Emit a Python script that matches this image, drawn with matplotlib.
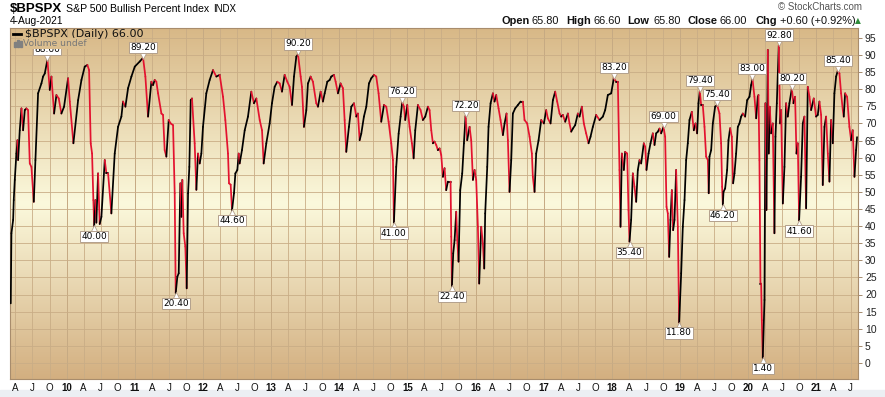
import numpy as np
import matplotlib
matplotlib.use("Agg")
import matplotlib.pyplot as plt
from matplotlib.collections import LineCollection
from matplotlib.colors import to_rgb
from matplotlib.patches import Rectangle
from matplotlib import transforms

# daily close of $BPSPX (decimal years)
dates = [
    2009.181, 2009.191, 2009.216, 2009.225, 2009.240, 2009.264, 2009.279, 2009.289, 2009.313, 2009.338,
    2009.362, 2009.387, 2009.411, 2009.435, 2009.460, 2009.484, 2009.519, 2009.543, 2009.582, 2009.631,
    2009.655, 2009.680, 2009.719, 2009.753, 2009.778, 2009.817, 2009.851, 2009.885, 2009.924, 2009.963,
    2010.022, 2010.047, 2010.100, 2010.169, 2010.218, 2010.266, 2010.305, 2010.330, 2010.354, 2010.374,
    2010.393, 2010.405, 2010.423, 2010.437, 2010.462, 2010.486, 2010.511, 2010.560, 2010.584, 2010.609,
    2010.657, 2010.706, 2010.755, 2010.804, 2010.828, 2010.863, 2010.902, 2010.951, 2011.000, 2011.073,
    2011.122, 2011.156, 2011.195, 2011.244, 2011.268, 2011.293, 2011.317, 2011.342, 2011.391, 2011.415,
    2011.439, 2011.464, 2011.498, 2011.527, 2011.562, 2011.586, 2011.601, 2011.625, 2011.645, 2011.669,
    2011.684, 2011.698, 2011.718, 2011.742, 2011.762, 2011.782, 2011.801, 2011.821, 2011.840, 2011.879,
    2011.904, 2011.928, 2011.953, 2011.977, 2012.001, 2012.050, 2012.099, 2012.148, 2012.197, 2012.246,
    2012.295, 2012.329, 2012.368, 2012.383, 2012.407, 2012.427, 2012.456, 2012.476, 2012.505, 2012.525,
    2012.539, 2012.573, 2012.613, 2012.661, 2012.710, 2012.749, 2012.784, 2012.833, 2012.867, 2012.891,
    2012.930, 2012.979, 2013.013, 2013.052, 2013.091, 2013.126, 2013.160, 2013.199, 2013.238, 2013.272,
    2013.307, 2013.336, 2013.370, 2013.395, 2013.434, 2013.453, 2013.482, 2013.517, 2013.541, 2013.580,
    2013.614, 2013.663, 2013.688, 2013.727, 2013.761, 2013.786, 2013.825, 2013.859, 2013.883, 2013.922,
    2013.947, 2013.981, 2014.020, 2014.054, 2014.079, 2014.103, 2014.142, 2014.177, 2014.216, 2014.250,
    2014.274, 2014.299, 2014.323, 2014.362, 2014.397, 2014.436, 2014.470, 2014.509, 2014.543, 2014.577,
    2014.616, 2014.656, 2014.690, 2014.724, 2014.763, 2014.788, 2014.802, 2014.836, 2014.871, 2014.900,
    2014.924, 2014.949, 2014.968, 2014.998, 2015.032, 2015.066, 2015.091, 2015.115, 2015.154, 2015.193,
    2015.227, 2015.262, 2015.301, 2015.325, 2015.350, 2015.374, 2015.398, 2015.423, 2015.447, 2015.472,
    2015.496, 2015.521, 2015.545, 2015.569, 2015.594, 2015.633, 2015.643, 2015.653, 2015.672, 2015.692,
    2015.716, 2015.731, 2015.750, 2015.775, 2015.804, 2015.829, 2015.853, 2015.877, 2015.912, 2015.936,
    2015.961, 2015.985, 2016.009, 2016.034, 2016.053, 2016.083, 2016.107, 2016.127, 2016.141, 2016.171,
    2016.190, 2016.220, 2016.254, 2016.278, 2016.303, 2016.337, 2016.366, 2016.401, 2016.425, 2016.454,
    2016.474, 2016.498, 2016.523, 2016.547, 2016.581, 2016.621, 2016.660, 2016.694, 2016.718, 2016.757,
    2016.792, 2016.826, 2016.840, 2016.865, 2016.889, 2016.924, 2016.963, 2017.002, 2017.036, 2017.060,
    2017.100, 2017.134, 2017.168, 2017.197, 2017.232, 2017.256, 2017.280, 2017.315, 2017.354, 2017.378,
    2017.403, 2017.427, 2017.461, 2017.500, 2017.525, 2017.559, 2017.588, 2017.622, 2017.657, 2017.686,
    2017.720, 2017.769, 2017.818, 2017.867, 2017.901, 2017.940, 2017.989, 2018.028, 2018.062, 2018.087,
    2018.111, 2018.126, 2018.146, 2018.175, 2018.194, 2018.224, 2018.243, 2018.258, 2018.282, 2018.307,
    2018.331, 2018.356, 2018.380, 2018.405, 2018.429, 2018.468, 2018.488, 2018.507, 2018.537, 2018.566,
    2018.600, 2018.625, 2018.649, 2018.674, 2018.698, 2018.722, 2018.757, 2018.781, 2018.801, 2018.820,
    2018.840, 2018.859, 2018.879, 2018.898, 2018.918, 2018.942, 2018.967, 2018.986, 2019.016, 2019.040,
    2019.065, 2019.089, 2019.113, 2019.138, 2019.172, 2019.201, 2019.226, 2019.250, 2019.270, 2019.289,
    2019.309, 2019.333, 2019.358, 2019.382, 2019.407, 2019.420, 2019.431, 2019.456, 2019.480, 2019.514,
    2019.544, 2019.578, 2019.602, 2019.617, 2019.627, 2019.637, 2019.661, 2019.690, 2019.710, 2019.734,
    2019.759, 2019.778, 2019.798, 2019.822, 2019.847, 2019.871, 2019.896, 2019.920, 2019.954, 2019.984,
    2020.018, 2020.042, 2020.062, 2020.091, 2020.116, 2020.140, 2020.150, 2020.164, 2020.179, 2020.189,
    2020.199, 2020.213, 2020.238, 2020.252, 2020.267, 2020.287, 2020.301, 2020.316, 2020.335, 2020.360,
    2020.384, 2020.399, 2020.419, 2020.448, 2020.467, 2020.482, 2020.507, 2020.531, 2020.555, 2020.580,
    2020.604, 2020.639, 2020.663, 2020.687, 2020.707, 2020.727, 2020.746, 2020.775, 2020.800, 2020.824,
    2020.849, 2020.873, 2020.898, 2020.922, 2020.961, 2020.995, 2021.020, 2021.044, 2021.069, 2021.093,
    2021.118, 2021.142, 2021.167, 2021.191, 2021.215, 2021.240, 2021.264, 2021.289, 2021.313, 2021.338,
    2021.362, 2021.387, 2021.401, 2021.421, 2021.450, 2021.484, 2021.509, 2021.533, 2021.558, 2021.582,
    2021.596,
]
values = [
    17.4, 37.9, 41.8, 47.6, 53.5, 61.2, 65.1, 59.3, 68.0, 74.4,
    68.0, 73.9, 74.4, 73.9, 58.3, 57.3, 47.1, 59.3, 78.8, 81.7,
    83.7, 84.6, 88.6, 79.8, 83.7, 72.9, 78.3, 77.3, 72.9, 74.9,
    83.2, 76.4, 64.2, 76.8, 82.7, 86.6, 87.1, 85.6, 64.2, 61.2,
    47.6, 40.0, 47.6, 41.0, 55.4, 40.6, 42.7, 59.3, 55.4, 55.4,
    43.7, 61.2, 69.0, 72.0, 76.4, 74.9, 80.3, 83.7, 86.6, 88.1,
    89.2, 83.7, 72.0, 82.2, 81.2, 82.7, 82.2, 78.8, 72.9, 72.5,
    62.2, 60.3, 71.0, 70.0, 69.5, 49.6, 20.4, 25.2, 26.2, 52.5,
    42.7, 53.5, 37.9, 34.0, 21.8, 49.6, 57.3, 76.8, 77.3, 64.2,
    50.6, 61.2, 58.3, 61.2, 69.0, 78.8, 82.7, 85.6, 83.7, 84.2,
    77.8, 71.0, 61.2, 52.5, 52.1, 44.6, 49.6, 55.4, 56.4, 61.2,
    58.3, 62.2, 68.0, 72.0, 79.3, 75.9, 77.3, 71.0, 68.0, 58.3,
    64.2, 70.0, 75.9, 80.7, 82.2, 81.7, 79.3, 84.2, 82.2, 80.7,
    75.4, 83.7, 89.5, 90.2, 83.7, 80.7, 69.0, 73.9, 81.7, 83.7,
    82.2, 75.9, 74.9, 79.3, 76.4, 78.8, 82.2, 82.7, 83.7, 84.2,
    82.2, 78.8, 81.7, 80.3, 71.0, 61.7, 69.0, 74.9, 75.9, 72.0,
    72.9, 65.1, 67.0, 72.0, 74.9, 81.7, 83.2, 84.2, 83.7, 78.8,
    70.5, 75.4, 74.9, 70.5, 64.2, 59.3, 41.0, 57.3, 67.0, 72.0,
    76.2, 74.9, 71.0, 75.4, 69.0, 64.2, 59.8, 68.0, 75.4, 73.9,
    71.0, 72.0, 74.9, 73.9, 68.0, 64.2, 64.7, 63.7, 62.2, 62.7,
    60.8, 54.4, 56.9, 50.5, 53.0, 53.0, 36.9, 22.4, 32.0, 35.9,
    44.2, 35.9, 29.6, 50.5, 55.4, 64.2, 72.2, 65.1, 69.0, 65.1,
    53.5, 56.4, 53.5, 39.8, 23.2, 39.8, 34.9, 27.6, 43.7, 57.3,
    69.0, 75.9, 78.8, 76.4, 78.3, 74.4, 71.0, 66.6, 70.0, 72.9,
    65.1, 50.0, 59.3, 72.9, 74.4, 75.4, 76.4, 76.4, 71.0, 70.0,
    66.1, 61.2, 54.4, 50.0, 61.2, 65.1, 71.0, 70.0, 73.9, 71.5,
    70.0, 76.8, 79.3, 76.4, 72.9, 72.0, 72.5, 70.5, 72.9, 70.0,
    67.6, 68.5, 69.5, 72.9, 72.0, 74.9, 70.0, 67.1, 64.2, 66.1,
    69.0, 72.5, 71.0, 72.0, 73.9, 78.3, 78.8, 83.2, 82.2, 82.2,
    56.4, 39.8, 61.2, 56.4, 61.7, 61.2, 44.7, 35.4, 41.8, 55.4,
    51.5, 47.1, 56.4, 59.3, 58.3, 64.2, 63.2, 56.4, 61.2, 64.2,
    67.1, 63.7, 67.1, 67.6, 68.5, 67.1, 69.0, 66.1, 45.6, 43.7,
    31.0, 41.8, 50.5, 38.8, 41.8, 56.4, 39.8, 11.8, 26.2, 39.8,
    47.6, 59.3, 64.2, 71.0, 73.4, 68.0, 70.0, 67.1, 75.9, 79.4,
    75.4, 75.4, 69.0, 60.3, 59.3, 49.6, 60.3, 62.2, 70.0, 74.9,
    75.4, 72.9, 64.2, 51.5, 46.2, 50.0, 51.0, 56.4, 65.1, 68.6,
    66.1, 52.5, 55.4, 61.2, 69.0, 70.0, 72.0, 72.9, 72.0, 76.8,
    77.8, 81.2, 83.0, 77.8, 71.5, 77.8, 78.3, 59.3, 23.2, 23.2,
    12.5, 1.4, 18.4, 75.9, 44.7, 91.5, 61.2, 74.9, 67.1, 70.0,
    37.9, 66.1, 75.9, 92.8, 70.0, 73.9, 46.6, 57.3, 75.9, 72.0,
    75.9, 80.2, 75.9, 77.8, 61.2, 64.2, 41.6, 54.4, 70.0, 72.0,
    45.2, 80.7, 77.8, 73.9, 77.3, 72.0, 72.5, 76.4, 72.5, 52.0,
    69.0, 72.0, 61.2, 53.0, 71.0, 64.2, 78.8, 83.7, 85.4, 84.6,
    78.8, 73.9, 72.0, 78.8, 77.8, 69.0, 65.1, 68.0, 54.4, 62.2,
    66.0,
]

# flagged highs and lows
peak_x = [2009.719, 2011.122, 2013.395, 2014.924, 2015.853, 2018.028, 2018.757,
          2019.289, 2019.544, 2020.062, 2020.448, 2020.639, 2021.313]
peak_y = [88.6, 89.2, 90.2, 76.2, 72.2, 83.2, 69.0, 79.4, 75.4, 83.0, 92.8, 80.2, 85.4]
trough_x = [2010.405, 2011.601, 2012.427, 2014.802, 2015.653, 2018.258, 2018.986,
            2019.627, 2020.213, 2020.746]
trough_y = [40.0, 20.4, 44.6, 41.0, 22.4, 35.4, 11.8, 46.2, 1.4, 41.6]

first_year, last_year = 2009, 2021
month_letters = ['A', 'J', 'O']
y_ticks = list(range(0, 100, 5))

W, H = 885, 397
fig = plt.figure(figsize=(W / 100, H / 100), dpi=100)
fig.patch.set_facecolor('white')
ax = fig.add_axes([10 / W, 18 / H, 848 / W, 351 / H])

def fx(px):
    return px / W

def fy(py):
    return 1 - py / H

# tan -> cream -> tan background
edge_top = np.array(to_rgb('#d8b887'))
edge_bot = np.array(to_rgb('#d3af80'))
mid = np.array(to_rgb('#fbf9dc'))
s = np.linspace(1, -1, 300)
grad = np.where(s[:, None] > 0, mid + (edge_top - mid) * np.abs(s)[:, None],
                mid + (edge_bot - mid) * np.abs(s)[:, None])
ax.imshow(grad[:, None, :], extent=[0, 1, 0, 1], transform=ax.transAxes,
          aspect='auto', zorder=0, interpolation='bilinear')

# black when rising, red when falling
x = np.array(dates)
y = np.array(values)
pts = np.column_stack([x, y]).reshape(-1, 1, 2)
segs = np.concatenate([pts[:-1], pts[1:]], axis=1)
cols = ['#000000' if d >= 0 else '#e3122f' for d in np.diff(y)]
ax.add_collection(LineCollection(segs, colors=cols, linewidths=1.25, zorder=3,
                                 capstyle='round', joinstyle='round'))

ax.set_xlim(2009.17, 2021.61)
ax.set_ylim(-4.7, 97.9)

# axes, ticks and grid
ax.yaxis.tick_right()
ax.set_yticks(y_ticks)
ax.set_yticklabels([str(v) for v in y_ticks])
ticks, labels = [], []
for yr in range(first_year, last_year + 1):
    for q, lab in zip([0.0, 0.25, 0.5, 0.75], [str(yr)[2:]] + month_letters):
        t = yr + q
        if 2009.2 < t < 2021.6:
            ticks.append(t)
            labels.append(lab)
ax.set_xticks(ticks)
ax.set_xticklabels(labels)
for tl in ax.get_xticklabels():
    tl.set_fontfamily('Liberation Sans')
    if tl.get_text().isdigit():
        tl.set_fontweight('bold')
ax.tick_params(axis='x', length=0, pad=3, labelsize=7, labelcolor='#111111')
ax.tick_params(axis='y', length=3, width=0.7, color='#a58a6c', pad=2,
               labelsize=7.5, labelcolor='#222222')
for tl in ax.get_yticklabels():
    tl.set_fontfamily('Liberation Sans')
ax.grid(True, color='#c9ad86', lw=0.6, zorder=1)
for yr in range(first_year + 1, last_year + 1):
    ax.axvline(yr, color='#b89b78', lw=0.7, zorder=1)
for sp in ax.spines.values():
    sp.set_color('#a88c6c')
    sp.set_linewidth(0.8)

# value flags
ec = '#b3a08c'
for xv, yv in zip(peak_x, peak_y):
    ax.annotate(f'{yv:.2f}', (xv, yv), xytext=(0, 7.5), textcoords='offset points',
                ha='center', va='center', fontsize=6.5, family='DejaVu Sans', zorder=6,
                bbox=dict(boxstyle='square,pad=0.12', fc='white', ec=ec, lw=0.7))
    tr = transforms.offset_copy(ax.transData, fig=fig, x=0, y=3, units='dots')
    ax.plot(xv, yv, marker='v', ms=6, mfc='white', mec=ec, mew=0.6,
            transform=tr, zorder=5)
for xv, yv in zip(trough_x, trough_y):
    ax.annotate(f'{yv:.2f}', (xv, yv), xytext=(0, -7.5), textcoords='offset points',
                ha='center', va='center', fontsize=6.5, family='DejaVu Sans', zorder=6,
                bbox=dict(boxstyle='square,pad=0.12', fc='white', ec=ec, lw=0.7))
    tr = transforms.offset_copy(ax.transData, fig=fig, x=0, y=-3, units='dots')
    ax.plot(xv, yv, marker='^', ms=6, mfc='white', mec=ec, mew=0.6,
            transform=tr, zorder=5)

# legend block in the top-left corner
cover = mid + (edge_top - mid) * 0.91
fig.add_artist(plt.Line2D([fx(13), fx(21)], [fy(34), fy(34)], color='black', lw=2))
fig.text(fx(25), fy(34), '$BPSPX (Daily) 66.00', fontsize=8, family='DejaVu Sans',
         va='center', ha='left', color='#111111', parse_math=False)
fig.text(fx(23), fy(43.5), 'Volume undef', fontsize=6.6, family='DejaVu Sans',
         va='center', ha='left', color='#777777', zorder=10,
         bbox=dict(boxstyle='square,pad=0.08', fc=cover, ec='none'))
for bx, bh in zip([13.5, 16.5, 19.5], [5, 7, 6]):
    fig.add_artist(Rectangle((fx(bx), fy(47)), 2 / W, bh / H, color='#808080', zorder=11))

# header
fig.text(fx(10), fy(8.5), '$BPSPX', fontsize=9.5, weight='bold', family='Liberation Sans',
         va='center', ha='left', parse_math=False)
fig.text(fx(66), fy(8.5), 'S&P 500 Bullish Percent Index', fontsize=7.6,
         family='Liberation Sans', va='center', ha='left')
fig.text(fx(213), fy(8.5), 'INDX', fontsize=7, family='Liberation Sans', va='center', ha='left')
fig.text(fx(10), fy(21), '4-Aug-2021', fontsize=7.4, family='Liberation Sans',
         va='center', ha='left')
fig.text(fx(862), fy(7.5), '\u00a9 StockCharts.com', fontsize=7, family='Liberation Sans',
         va='center', ha='right', color='#555555')
quote = [(502, 'Open', True), (532, '65.80', False), (566, 'High', True), (593, '66.60', False),
         (627, 'Low', True), (653, '65.80', False), (687, 'Close', True), (719, '66.00', False),
         (756, 'Chg', True), (780, '+0.60 (+0.92%)', False)]
for px, txt, bold in quote:
    fig.text(fx(px), fy(21), txt, fontsize=7.9, family='Liberation Sans',
             weight='bold' if bold else 'normal', va='center', ha='left', color='#111111')
fig.text(fx(855), fy(21), '\u25b2', fontsize=5.5, family='DejaVu Sans', va='center',
         ha='left', color='#2e8b3a')

# pale strip along the bottom edge
fig.add_artist(Rectangle((0, 0), 1, 7 / H, color='#eceff3', zorder=0))

fig.savefig('out.png', dpi=100)
